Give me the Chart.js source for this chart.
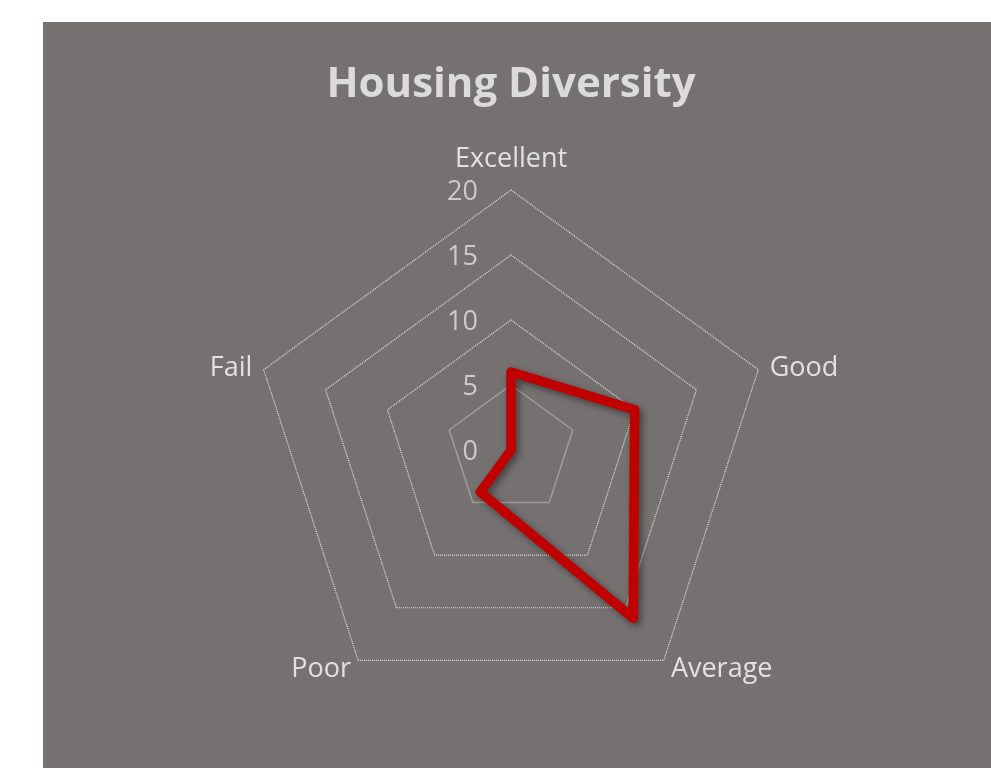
<!DOCTYPE html>
<html>
<head>
<meta charset="utf-8">
<script src="https://cdn.jsdelivr.net/npm/chart.js@4/dist/chart.umd.min.js"></script>
<style>
  html, body { margin: 0; padding: 0; background: #ffffff; }
  #wrap { position: absolute; left: 43px; top: 22px; width: 948px; height: 746px; background: #767171; }
</style>
</head>
<body>
<div id="wrap"><canvas id="c"></canvas></div>
<script>
const categories = ['Excellent', 'Good', 'Average', 'Poor', 'Fail'];
const housingValues = [6, 10, 16, 4, 0];
const tickValues = [0, 5, 10, 15, 20];
const chartTitle = 'Housing Diversity';

const FONT = '"Open Sans", "Liberation Sans", sans-serif';

const textPlugin = {
  id: 'radarText',
  beforeDatasetsDraw(chart) {
    const scale = chart.scales.r;
    const ctx = chart.ctx;
    ctx.save();
    // tick labels, to the left of the vertical axis
    ctx.font = '27px ' + FONT;
    ctx.fillStyle = '#cdcaca';
    ctx.textAlign = 'right';
    ctx.textBaseline = 'middle';
    tickValues.forEach(v => {
      const p = scale.getPointPositionForValue(0, v);
      ctx.fillText(String(v), p.x - 33, p.y + 2);
    });
    // category labels
    ctx.font = '27px ' + FONT;
    ctx.fillStyle = '#e2e1e1';
    categories.forEach((name, i) => {
      const angle = scale.getIndexAngle(i);
      const p = scale.getPointPosition(i, scale.drawingArea + 12);
      const s = Math.sin(angle), c = Math.cos(angle);
      ctx.textAlign = s > 0.05 ? 'left' : (s < -0.05 ? 'right' : 'center');
      ctx.textBaseline = 'middle';
      let y = p.y + 2;
      if (c > 0.95) y -= 21;
      else if (c < -0.5) y -= 3;
      ctx.fillText(name, p.x, y);
    });
    ctx.restore();
    // shadow for the series line
    ctx.save();
    ctx.shadowColor = 'rgba(0,0,0,0.45)';
    ctx.shadowBlur = 7;
    ctx.shadowOffsetX = 3;
    ctx.shadowOffsetY = 3;
  },
  afterDatasetsDraw(chart) {
    chart.ctx.restore();
  }
};

new Chart(document.getElementById('c'), {
  type: 'radar',
  data: {
    labels: categories,
    datasets: [{
      label: 'Housing Diversity',
      data: housingValues,
      borderColor: '#c00000',
      backgroundColor: 'rgba(0,0,0,0)',
      borderWidth: 9.5,
      borderJoinStyle: 'round',
      fill: false,
      pointRadius: 0,
      pointHoverRadius: 0,
      tension: 0
    }]
  },
  options: {
    responsive: true,
    maintainAspectRatio: false,
    animation: false,
    layout: { padding: { left: 208, right: 220, top: 0, bottom: 58 } },
    plugins: {
      legend: { display: false },
      tooltip: { enabled: false },
      title: {
        display: true,
        text: chartTitle,
        color: '#dcdbdb',
        font: { family: FONT, size: 42, weight: 'bold', lineHeight: 1.2 },
        padding: { top: 38, bottom: 79.6 }
      }
    },
    scales: {
      r: {
        min: 0,
        max: 20,
        beginAtZero: true,
        ticks: { stepSize: 5, display: false },
        angleLines: { display: false },
        pointLabels: { display: false },
        grid: {
          color: (ctx) => (ctx.tick && ctx.tick.value <= 5) ? '#a09c9c' : '#e4e2e2',
          lineWidth: (ctx) => (ctx.tick && ctx.tick.value <= 5) ? 1.5 : 1.2
        },
        border: {
          dash: (ctx) => (ctx.tick && ctx.tick.value <= 5) ? [] : [1, 1]
        }
      }
    }
  },
  plugins: [textPlugin]
});
</script>
</body>
</html>
